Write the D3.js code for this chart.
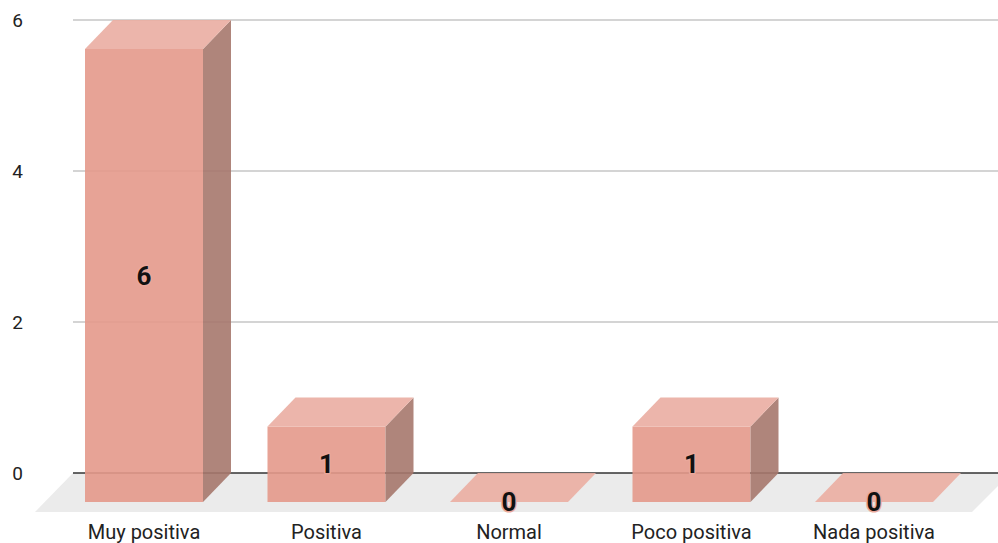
<!DOCTYPE html>
<html>
<head>
<meta charset="utf-8">
<script src="https://cdn.jsdelivr.net/npm/d3@7"></script>
<style>
  html, body { margin: 0; padding: 0; background: #fff; }
  svg { display: block; font-family: Roboto, "Noto Sans", Arial, sans-serif; }
</style>
</head>
<body>
<svg id="chart" width="998" height="543"></svg>
<script>
const categories = ["Muy positiva", "Positiva", "Normal", "Poco positiva", "Nada positiva"];
const values = [6, 1, 0, 1, 0];
const yTicks = [0, 2, 4, 6];

const W = 998, H = 543;
const svg = d3.select("#chart");

const depthX = 28, depthY = 29;           // 3D offset of back plane
const plotLeft = 73, plotRight = 998;
const y = d3.scaleLinear().domain([0, 6]).range([473, 20]);
const x = d3.scaleBand().domain(categories).range([52.75, 965.25])
  .paddingInner(0.3534).paddingOuter(0.1767);

const frontBase = y(0) + depthY;

// gridlines
svg.append("g").selectAll("line").data(yTicks.filter(t => t !== 0)).join("line")
  .attr("x1", plotLeft).attr("x2", plotRight)
  .attr("y1", d => y(d)).attr("y2", d => y(d))
  .attr("stroke", "#c6c6c6").attr("stroke-width", 1.3);

// floor
const floorDepth = 39;
svg.append("path")
  .attr("d", `M${plotLeft},${y(0)} L${plotRight + 13},${y(0)} L${plotRight + 13 - floorDepth},${y(0) + floorDepth} L${plotLeft - 38},${y(0) + floorDepth} Z`)
  .attr("fill", "#ebebeb");

// zero line
svg.append("line")
  .attr("x1", plotLeft).attr("x2", plotRight)
  .attr("y1", y(0)).attr("y2", y(0))
  .attr("stroke", "#333333").attr("stroke-width", 1.3);

// y tick labels
svg.append("g").selectAll("text").data(yTicks).join("text")
  .attr("x", 23).attr("y", d => y(d))
  .attr("text-anchor", "end").attr("dominant-baseline", "central")
  .attr("font-size", 19).attr("fill", "#222")
  .text(d => d);

// bars
const frontCol = "#e59a8b", topCol = "#ebaea2", sideCol = "#a7786d";
const bars = svg.append("g").selectAll("g").data(categories.map((c, i) => ({c, v: values[i]}))).join("g")
  .attr("opacity", 0.9);

bars.each(function(d) {
  const g = d3.select(this);
  const x0 = x(d.c), x1 = x(d.c) + x.bandwidth();
  const yt = y(d.v);
  const ft = yt + depthY;
  if (d.v > 0) {
    g.append("rect").attr("x", x0).attr("y", ft).attr("width", x1 - x0).attr("height", frontBase - ft)
      .attr("fill", frontCol);
    g.append("path")
      .attr("d", `M${x1},${ft} L${x1 + depthX},${yt} L${x1 + depthX},${y(0)} L${x1},${frontBase} Z`)
      .attr("fill", sideCol);
  }
  g.append("path")
    .attr("d", `M${x0},${ft} L${x1},${ft} L${x1 + depthX},${yt} L${x0 + depthX},${yt} Z`)
    .attr("fill", topCol);
});

// value labels
svg.append("g").selectAll("text").data(categories.map((c, i) => ({c, v: values[i]}))).join("text")
  .attr("x", d => x(d.c) + x.bandwidth() / 2)
  .attr("y", d => (y(d.v) + depthY + frontBase) / 2)
  .attr("text-anchor", "middle").attr("dominant-baseline", "central")
  .attr("font-size", 26).attr("font-weight", "bold").attr("fill", "#111")
  .attr("stroke", "#eaa89b").attr("stroke-width", 3).attr("paint-order", "stroke")
  .attr("stroke-linejoin", "round")
  .text(d => d.v);

// category labels
svg.append("g").selectAll("text").data(categories).join("text")
  .attr("x", d => x(d) + x.bandwidth() / 2)
  .attr("y", 532)
  .attr("text-anchor", "middle").attr("dominant-baseline", "central")
  .attr("font-size", 20).attr("fill", "#222")
  .text(d => d);
</script>
</body>
</html>
